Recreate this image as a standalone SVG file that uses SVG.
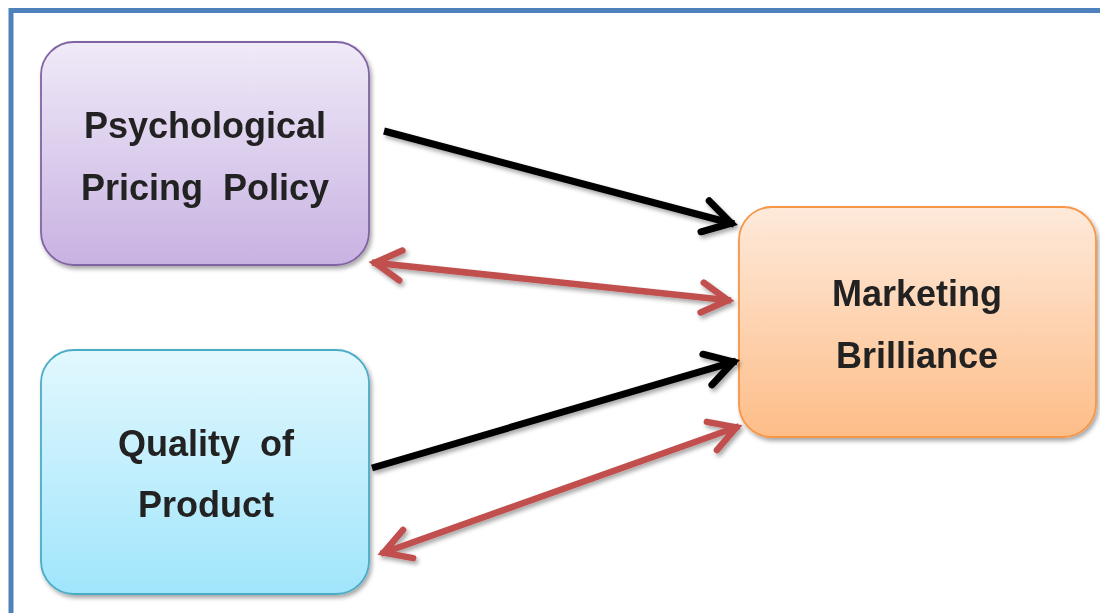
<svg xmlns="http://www.w3.org/2000/svg" width="1100" height="613" viewBox="0 0 1100 613">
  <style>
    .lbl { font-family: "Liberation Sans", Arial, sans-serif; font-weight: bold; font-size: 36px; fill: #222222; text-anchor: middle; }
    .box { stroke-width: 1.8; }
    .blk { stroke: #000000; stroke-width: 7; fill: none; stroke-linecap: butt; }
    .red { stroke: #C0504D; stroke-width: 6.5; fill: none; stroke-linecap: butt; }
  </style>
  <defs>
    <linearGradient id="gPurple" x1="0" y1="0" x2="0" y2="1">
      <stop offset="0" stop-color="#F0EAF8"/>
      <stop offset="1" stop-color="#C8B2E2"/>
    </linearGradient>
    <linearGradient id="gCyan" x1="0" y1="0" x2="0" y2="1">
      <stop offset="0" stop-color="#E2F8FE"/>
      <stop offset="1" stop-color="#A0E5FB"/>
    </linearGradient>
    <linearGradient id="gOrange" x1="0" y1="0" x2="0" y2="1">
      <stop offset="0" stop-color="#FEEADB"/>
      <stop offset="1" stop-color="#FDBD88"/>
    </linearGradient>
    <filter id="shadow" x="-10%" y="-10%" width="130%" height="130%">
      <feDropShadow dx="2" dy="3" stdDeviation="2" flood-color="#000000" flood-opacity="0.35"/>
    </filter>
    <marker id="mBlk" markerUnits="userSpaceOnUse" markerWidth="60" markerHeight="60" refX="0" refY="0" orient="auto-start-reverse" overflow="visible">
      <path d="M-30,-16 L-3,0 L-30,16" fill="none" stroke="#000000" stroke-width="7" stroke-linecap="round" stroke-linejoin="miter"/>
    </marker>
    <marker id="mRed" markerUnits="userSpaceOnUse" markerWidth="60" markerHeight="60" refX="0" refY="0" orient="auto-start-reverse" overflow="visible">
      <path d="M-29,-15 L-3,0 L-29,15" fill="none" stroke="#C0504D" stroke-width="6.5" stroke-linecap="round" stroke-linejoin="miter"/>
    </marker>
  </defs>

  <rect x="0" y="0" width="1100" height="613" fill="#FFFFFF"/>
  <rect id="frame" x="11" y="10.5" width="1120" height="640" fill="none" stroke="#4F81BD" stroke-width="5"/>

  <g id="node-psych" filter="url(#shadow)">
    <rect class="box" x="41" y="42" width="328" height="223" rx="33" ry="33" fill="url(#gPurple)" stroke="#8064A2"/>
    <text class="lbl" x="205" y="138">Psychological</text>
    <text class="lbl" x="205" y="200" word-spacing="10">Pricing Policy</text>
  </g>

  <g id="node-quality" filter="url(#shadow)">
    <rect class="box" x="41" y="350" width="328" height="244" rx="33" ry="33" fill="url(#gCyan)" stroke="#4BACC6"/>
    <text class="lbl" x="206" y="456" word-spacing="10">Quality of</text>
    <text class="lbl" x="206" y="517">Product</text>
  </g>

  <g id="node-marketing" filter="url(#shadow)">
    <rect class="box" x="739" y="207" width="357" height="230" rx="33" ry="33" fill="url(#gOrange)" stroke="#F79646"/>
    <text class="lbl" x="917" y="306">Marketing</text>
    <text class="lbl" x="917" y="368">Brilliance</text>
  </g>

  <g id="connectors" filter="url(#shadow)">
    <line class="blk" x1="384" y1="131" x2="734.1" y2="224" marker-end="url(#mBlk)"/>
    <line class="red" x1="372" y1="262.4" x2="731" y2="300.6" marker-start="url(#mRed)" marker-end="url(#mRed)"/>
    <line class="blk" x1="372" y1="468" x2="736.2" y2="361.1" marker-end="url(#mBlk)"/>
    <line class="red" x1="380.8" y1="553.7" x2="739.2" y2="426.3" marker-start="url(#mRed)" marker-end="url(#mRed)"/>
  </g>
</svg>
